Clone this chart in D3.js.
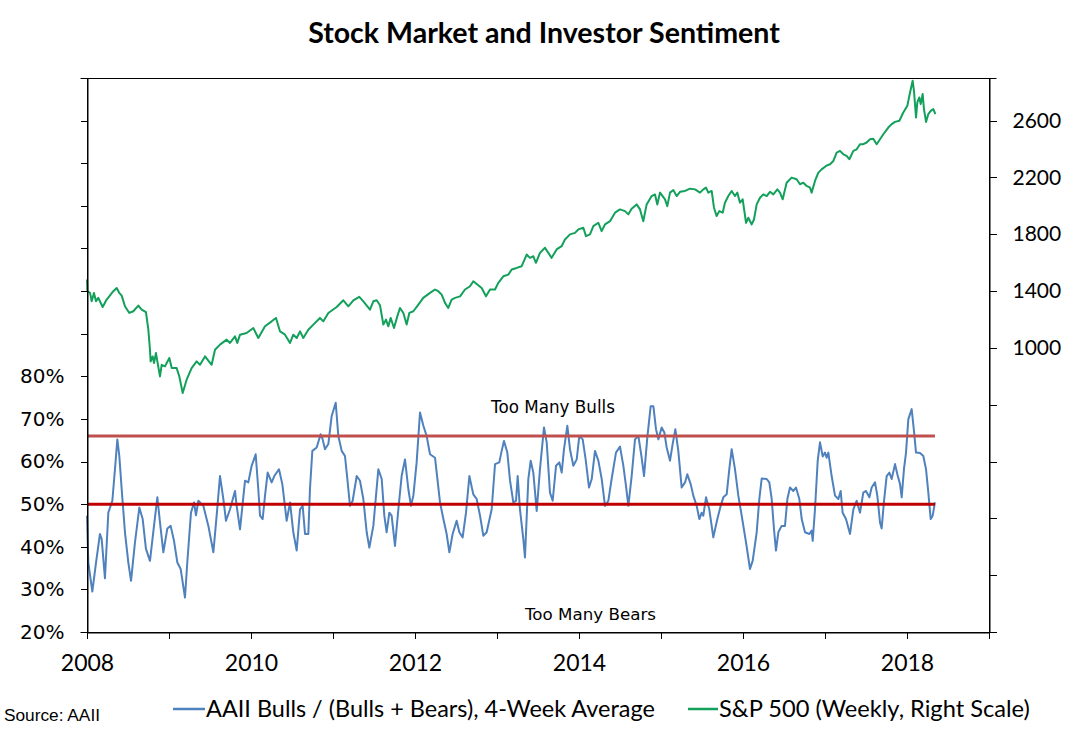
<!DOCTYPE html>
<html><head><meta charset="utf-8">
<script src="https://cdn.jsdelivr.net/npm/d3@7"></script>
<style>body{margin:0;background:#fff;} svg{display:block}</style>
</head><body>
<svg id="c" width="1073" height="739"></svg>
<script>
// ---------- DATA ----------
const titleText = "Stock Market and Investor Sentiment";
const yearTicks = [2008,2009,2010,2011,2012,2013,2014,2015,2016,2017,2018,2019];
const yearLabels = [2008,2010,2012,2014,2016,2018];
const leftTicks = [0.2,0.3,0.4,0.5,0.6,0.7,0.8,0.9,1.0,1.1,1.2,1.3,1.4,1.5];
const leftLabelMax = 0.8;
const rightTicks = [-1000,-600,-200,200,600,1000,1400,1800,2200,2600];
const rightLabelMin = 1000;
const bullLevel = 0.66;
const neutralLevel = 0.50;

// AAII Bulls/(Bulls+Bears), 4-week average (percent), dates as decimal years
const aaiiDates = [
 2008.000,2008.016,2008.065,2008.110,2008.158,2008.179,2008.219,2008.260,2008.309,2008.341,2008.370,2008.394,2008.423,2008.463,2008.504,2008.537,2008.585,2008.638,2008.679,2008.719,2008.768,2008.817,2008.858,2008.890,2008.931,2008.980,
 2009.020,2009.061,2009.102,2009.142,2009.195,2009.223,2009.268,2009.305,2009.329,2009.358,2009.419,2009.480,2009.541,2009.581,2009.622,2009.663,2009.695,2009.744,2009.805,2009.825,2009.866,2009.927,2009.967,
 2010.008,2010.057,2010.089,2010.110,2010.142,2010.171,2010.203,2010.252,2010.284,2010.341,2010.382,2010.435,2010.476,2010.516,2010.557,2010.598,2010.630,2010.659,2010.699,2010.719,2010.748,2010.801,2010.849,2010.874,2010.902,2010.943,2010.984,
 2011.033,2011.065,2011.106,2011.146,2011.175,2011.207,2011.240,2011.289,2011.329,2011.370,2011.411,2011.443,2011.492,2011.553,2011.594,2011.626,2011.654,2011.687,2011.715,2011.756,2011.797,2011.837,2011.878,2011.919,2011.951,2011.980,
 2012.020,2012.061,2012.102,2012.142,2012.183,2012.244,2012.305,2012.346,2012.386,2012.419,2012.459,2012.508,2012.541,2012.581,2012.622,2012.663,2012.711,2012.752,2012.793,2012.833,2012.874,2012.935,2012.976,
 2013.028,2013.057,2013.085,2013.126,2013.159,2013.199,2013.232,2013.252,2013.280,2013.321,2013.341,2013.382,2013.411,2013.443,2013.484,2013.524,2013.573,2013.606,2013.646,2013.679,2013.720,2013.760,2013.789,2013.817,2013.858,2013.890,2013.931,2013.972,
 2014.004,2014.045,2014.081,2014.122,2014.155,2014.195,2014.236,2014.277,2014.317,2014.358,2014.398,2014.451,2014.500,2014.541,2014.573,2014.602,2014.642,2014.683,2014.724,2014.764,2014.793,2014.833,2014.874,2014.907,2014.939,2014.968,
 2015.008,2015.041,2015.069,2015.110,2015.142,2015.175,2015.211,2015.252,2015.293,2015.321,2015.362,2015.394,2015.435,2015.468,2015.496,2015.516,2015.549,2015.589,2015.638,2015.687,2015.728,2015.760,2015.801,2015.833,2015.862,2015.902,2015.943,2015.984,
 2016.037,2016.085,2016.118,2016.167,2016.199,2016.228,2016.289,2016.321,2016.350,2016.378,2016.402,2016.431,2016.471,2016.512,2016.541,2016.573,2016.614,2016.646,2016.687,2016.716,2016.756,2016.809,2016.837,2016.850,2016.878,2016.911,2016.939,2016.972,
 2017.000,2017.020,2017.041,2017.081,2017.122,2017.163,2017.191,2017.215,2017.256,2017.305,2017.346,2017.386,2017.427,2017.467,2017.500,2017.541,2017.569,2017.610,2017.638,2017.671,2017.691,2017.720,2017.752,2017.785,2017.813,2017.854,2017.882,2017.915,2017.935,2017.963,2017.988,
 2018.016,2018.057,2018.085,2018.110,2018.159,2018.199,2018.232,2018.260,2018.289,2018.313,2018.341
];
const aaiiValues = [
 47.3,36.3,29.5,36.3,43.0,41.8,32.6,48.0,50.8,58.2,65.2,61.3,53.5,43.4,36.3,32.0,41.0,49.2,46.5,39.5,36.7,44.9,51.6,45.7,38.7,44.3,
 44.9,41.4,36.3,34.8,28.1,36.3,48.0,50.4,47.4,50.8,49.6,44.9,38.7,47.3,56.6,51.2,46.1,48.8,53.1,49.6,44.1,55.5,55.1,
 59.0,61.7,53.5,47.3,46.5,52.0,57.4,55.1,56.6,58.2,54.7,46.1,50.4,43.4,39.1,48.8,49.6,43.0,43.0,53.5,62.5,63.3,66.4,65.2,62.9,64.1,70.7,
 73.8,66.0,62.5,61.3,55.9,49.6,50.8,56.6,55.5,51.2,43.4,39.8,44.9,58.2,55.9,47.3,43.4,48.0,47.3,40.2,48.8,56.6,60.5,53.5,49.6,52.0,
 59.8,71.5,68.4,66.0,61.7,60.9,50.4,46.5,43.0,38.7,43.0,46.1,43.4,42.2,48.0,56.6,52.3,51.2,47.3,42.6,43.4,48.8,59.4,
 59.8,62.5,64.8,62.1,55.5,50.4,50.8,56.6,48.8,41.8,37.5,55.9,60.2,57.4,48.4,58.2,68.0,64.5,52.7,50.8,59.0,59.8,57.4,62.9,68.4,62.9,59.0,60.5,
 66.0,65.2,60.5,53.9,55.9,62.5,60.2,55.9,49.6,50.8,55.9,62.1,63.5,59.0,54.3,49.6,56.6,65.2,66.0,60.9,56.6,65.6,73.0,73.0,67.6,65.2,
 68.0,66.8,63.3,60.2,64.1,67.6,62.5,53.9,55.1,57.0,54.7,52.0,49.6,46.5,48.0,47.3,51.6,48.8,42.2,46.5,49.6,51.6,52.3,58.2,62.9,58.2,52.0,47.3,
 41.0,34.8,36.7,43.4,51.2,56.0,55.9,55.1,51.2,44.1,39.1,43.4,44.9,44.9,51.2,53.9,53.1,53.9,51.2,46.5,43.4,43.0,43.8,41.4,48.8,60.2,64.5,61.2,
 62.1,60.9,62.1,56.6,52.0,51.2,53.1,48.0,46.5,43.0,48.8,50.8,48.0,52.7,53.1,51.6,53.9,55.1,52.0,45.7,44.3,50.8,56.6,57.4,55.9,59.4,57.0,54.7,51.6,58.2,62.1,
 69.9,72.3,67.2,62.1,62.0,61.3,58.2,52.7,46.5,47.3,50.4
];

// S&P 500 weekly (right scale)
const spxDates = [
 2008.000,2008.004,2008.037,2008.057,2008.085,2008.110,2008.138,2008.191,2008.240,2008.288,2008.321,2008.362,2008.394,2008.423,2008.463,2008.516,2008.565,2008.626,2008.667,2008.719,2008.748,2008.768,2008.776,2008.801,2008.817,2008.841,2008.858,2008.890,2008.911,2008.951,
 2009.004,2009.033,2009.093,2009.126,2009.167,2009.215,2009.276,2009.337,2009.378,2009.439,2009.520,2009.561,2009.622,2009.703,2009.744,2009.805,2009.833,2009.866,2009.947,
 2010.028,2010.089,2010.171,2010.252,2010.305,2010.354,2010.415,2010.476,2010.516,2010.557,2010.598,2010.638,2010.699,2010.760,2010.841,2010.882,2010.943,
 2011.045,2011.126,2011.187,2011.248,2011.321,2011.370,2011.451,2011.492,2011.533,2011.573,2011.614,2011.646,2011.675,2011.703,2011.744,2011.784,2011.817,2011.858,2011.898,2011.931,2011.980,
 2012.041,2012.101,2012.183,2012.244,2012.284,2012.325,2012.366,2012.406,2012.447,2012.488,2012.549,2012.610,2012.671,2012.711,2012.760,2012.813,2012.866,2012.915,2012.976,
 2013.016,2013.077,2013.138,2013.179,2013.240,2013.301,2013.362,2013.402,2013.443,2013.475,2013.524,2013.585,2013.626,2013.666,2013.727,2013.788,2013.829,2013.890,2013.951,2013.992,
 2014.053,2014.085,2014.134,2014.175,2014.236,2014.276,2014.317,2014.378,2014.439,2014.500,2014.561,2014.602,2014.642,2014.703,2014.744,2014.784,2014.825,2014.886,2014.927,2014.955,2014.988,
 2015.049,2015.077,2015.110,2015.150,2015.191,2015.232,2015.293,2015.354,2015.415,2015.476,2015.516,2015.549,2015.577,2015.618,2015.646,2015.679,2015.711,2015.752,2015.780,2015.821,2015.862,2015.902,2015.931,2015.963,2015.996,
 2016.037,2016.065,2016.106,2016.134,2016.167,2016.207,2016.248,2016.289,2016.329,2016.370,2016.419,2016.451,2016.484,2016.532,2016.593,2016.654,2016.695,2016.736,2016.776,2016.817,2016.837,2016.878,2016.919,2016.959,
 2017.012,2017.061,2017.102,2017.142,2017.183,2017.224,2017.264,2017.297,2017.346,2017.386,2017.427,2017.467,2017.508,2017.549,2017.589,2017.630,2017.671,2017.711,2017.772,2017.813,2017.854,2017.907,2017.955,
 2018.004,2018.037,2018.069,2018.085,2018.110,2018.126,2018.150,2018.167,2018.191,2018.207,2018.232,2018.260,2018.289,2018.321,2018.346
];
const spxValues = [
 1481,1399,1387,1328,1387,1328,1352,1288,1340,1375,1399,1422,1387,1368,1293,1246,1258,1298,1269,1252,1128,987,905,940,893,964,905,799,881,870,
 929,858,858,799,682,776,858,905,881,940,881,987,1023,1058,1035,1081,1035,1093,1105,
 1140,1070,1152,1187,1211,1116,1093,1035,1093,1070,1116,1070,1128,1164,1211,1187,1246,
 1288,1335,1293,1335,1359,1328,1269,1328,1335,1300,1164,1199,1152,1211,1140,1222,1281,1246,1164,1246,1258,
 1305,1352,1387,1411,1399,1375,1317,1281,1340,1352,1363,1411,1434,1469,1446,1422,1363,1411,1411,
 1458,1504,1516,1552,1563,1575,1657,1634,1645,1599,1669,1705,1669,1634,1693,1716,1763,1799,1810,1834,
 1846,1787,1799,1857,1881,1822,1869,1892,1952,1975,1963,1940,1980,2010,1975,1892,2010,2069,2080,2010,2093,
 2046,1998,2093,2111,2069,2099,2105,2121,2116,2093,2116,2128,2093,2105,1987,1928,1963,1952,2022,2069,2105,2069,2093,2022,2046,
 1881,1916,1869,1904,2010,2057,2081,2069,2099,2081,2116,2093,2046,2163,2199,2187,2152,2163,2140,2128,2093,2175,2234,2257,
 2281,2293,2316,2375,2387,2363,2352,2328,2387,2398,2434,2434,2446,2469,2473,2434,2469,2504,2551,2575,2591,2599,2657,
 2704,2798,2880,2810,2622,2728,2763,2716,2787,2681,2591,2646,2669,2681,2646
];

const seriesNames = ["AAII Bulls / (Bulls + Bears), 4-Week Average", "S&P 500 (Weekly, Right Scale)"];
const sourceText = "Source: AAII";

// ---------- CHART ----------
const svg = d3.select("#c");
const m = {l: 87, r: 989, t: 78, b: 632};
const colAAII = "#4f81bd", colSPX = "#12a05a", colBull = "#c0504d", colNeutral = "#c00000";
const tickFont = "'DejaVu Sans', Verdana, sans-serif";
const calFont = "Lato, 'Open Sans', sans-serif";

const x = d3.scaleLinear().domain([2008, 2019]).range([m.l, m.r]);
const yL = d3.scaleLinear().domain([0.2, 1.5]).range([m.b, m.t]);
const yR = d3.scaleLinear().domain([-1000, 2900]).range([m.b, m.t]);

const aaii = d3.zip(aaiiDates, aaiiValues);
const spx = d3.zip(spxDates, spxValues);

function fit(sel, w) {
  const cur = parseFloat(sel.style("font-size"));
  const len = sel.node().getComputedTextLength();
  if (len > 0) sel.style("font-size", (cur * w / len) + "px");
  return sel;
}

// Title
fit(svg.append("text").attr("x", 544).attr("y", 43).attr("text-anchor", "middle")
  .style("font-family", calFont).style("font-weight", "bold").style("font-size", "26px")
  .text(titleText), 472);

// S&P line
svg.append("path").datum(spx)
  .attr("fill", "none").attr("stroke", colSPX).attr("stroke-width", 2).attr("stroke-linejoin", "round")
  .attr("d", d3.line().x(d => x(d[0])).y(d => yR(d[1])));

// AAII line
svg.append("path").datum(aaii)
  .attr("fill", "none").attr("stroke", colAAII).attr("stroke-width", 2).attr("stroke-linejoin", "round")
  .attr("d", d3.line().x(d => x(d[0])).y(d => yL(d[1] / 100)));

// Reference lines over the data span
const x0 = x(aaiiDates[0]), x1 = x(aaiiDates[aaiiDates.length - 1]);
svg.append("line").attr("x1", x0).attr("x2", x1).attr("y1", yL(bullLevel)).attr("y2", yL(bullLevel))
  .attr("stroke", colBull).attr("stroke-width", 3);
svg.append("line").attr("x1", x0).attr("x2", x1).attr("y1", yL(neutralLevel)).attr("y2", yL(neutralLevel))
  .attr("stroke", colNeutral).attr("stroke-width", 3);

// Annotations
fit(svg.append("text").attr("x", 491).attr("y", 413)
  .style("font-family", tickFont).style("font-size", "16px").text("Too Many Bulls"), 124);
fit(svg.append("text").attr("x", 525).attr("y", 620)
  .style("font-family", tickFont).style("font-size", "16px").text("Too Many Bears"), 131);

// Frame
svg.append("rect").attr("x", m.l + 0.5).attr("y", m.t + 0.5).attr("width", m.r - m.l).attr("height", m.b - m.t)
  .attr("fill", "none").attr("stroke", "#000").attr("stroke-width", 1);

// Axes
const gL = svg.append("g").attr("transform", `translate(${m.l + 0.5},0)`)
  .call(d3.axisLeft(yL).tickValues(leftTicks).tickSize(7).tickPadding(16)
    .tickFormat(d => d <= leftLabelMax + 1e-9 ? Math.round(d * 100) + "%" : ""));
gL.selectAll("text").style("font-family", tickFont).style("font-size", "20px").attr("fill", "#000");

const gR = svg.append("g").attr("transform", `translate(${m.r + 0.5},0)`)
  .call(d3.axisRight(yR).tickValues(rightTicks).tickSize(7).tickPadding(16)
    .tickFormat(d => d >= rightLabelMin ? d : ""));
gR.selectAll("text").style("font-family", calFont).style("font-size", "21px").attr("fill", "#000");

const gB = svg.append("g").attr("transform", `translate(0,${m.b + 0.5})`)
  .call(d3.axisBottom(x).tickValues(yearTicks).tickSize(6)
    .tickFormat(d => yearLabels.includes(d) ? String(d) : ""));
gB.selectAll("text").style("font-family", calFont).style("font-size", "23px").attr("fill", "#000")
  .attr("y", 30).attr("dy", "0.35em");

[gL, gR, gB].forEach(g => {
  g.selectAll("path.domain").attr("stroke", "#000");
  g.selectAll("line").attr("stroke", "#000").attr("shape-rendering", "crispEdges");
});

// Legend
svg.append("line").attr("x1", 173).attr("x2", 205).attr("y1", 709).attr("y2", 709)
  .attr("stroke", colAAII).attr("stroke-width", 2.5);
fit(svg.append("text").attr("x", 206).attr("y", 717)
  .style("font-family", calFont).style("font-size", "24px").text(seriesNames[0]), 449);
svg.append("line").attr("x1", 688).attr("x2", 718).attr("y1", 709).attr("y2", 709)
  .attr("stroke", colSPX).attr("stroke-width", 2.5);
fit(svg.append("text").attr("x", 719).attr("y", 717)
  .style("font-family", calFont).style("font-size", "24px").text(seriesNames[1]), 311);

// Source
fit(svg.append("text").attr("x", 4).attr("y", 721)
  .style("font-family", "'Liberation Sans', Arial, sans-serif").style("font-size", "16px").text(sourceText), 96);
</script>
</body></html>
